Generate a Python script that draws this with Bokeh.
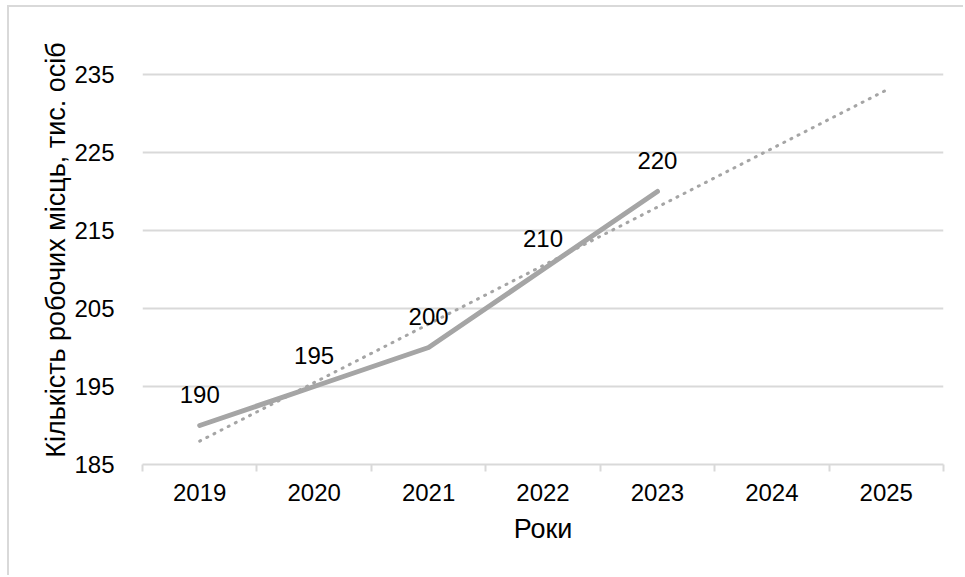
from bokeh.plotting import figure
from bokeh.models import ColumnDataSource, FixedTicker, LabelSet, Range1d
from bokeh.core.properties import value
from bokeh.embed import file_html
from bokeh.resources import INLINE

years = ["2019", "2020", "2021", "2022", "2023", "2024", "2025"]
jobs = [190, 195, 200, 210, 220]
trend = [188, 195.5, 203, 210.5, 218, 225.5, 233]
y_ticks = [185, 195, 205, 215, 225, 235]
x_title = "Роки"
y_title = "Кількість робочих місць, тис. осіб"

FONT = "Liberation Sans"
GRID = "#d9d9d9"
LINE = "#a5a5a5"

centers = [i + 0.5 for i in range(len(years))]
bounds = list(range(len(years) + 1))

p = figure(width=956, height=570, output_backend="svg", toolbar_location=None,
           x_range=Range1d(0, len(years)), y_range=Range1d(185, 240),
           min_border_left=133, min_border_right=22, min_border_top=28, min_border_bottom=113)
p.styles = {"border-left": "2px solid #d9d9d9", "border-top": "2px solid #d9d9d9",
            "margin-left": "7px", "margin-top": "5px"}
p.outline_line_color = None
p.background_fill_color = "white"

# axes
xa = p.xaxis[0]
xa.ticker = FixedTicker(ticks=centers, minor_ticks=bounds)
xa.major_label_overrides = {c: y for c, y in zip(centers, years)}
xa.major_tick_out = 0
xa.major_tick_in = 0
xa.minor_tick_out = 7
xa.minor_tick_in = 0
xa.minor_tick_line_color = GRID
xa.minor_tick_line_width = 2
xa.axis_line_color = GRID
xa.axis_line_width = 2
xa.major_label_text_font = FONT
xa.major_label_text_font_size = "24px"
xa.major_label_text_color = "black"
xa.major_label_standoff = 12
xa.axis_label = x_title
xa.axis_label_text_font = FONT
xa.axis_label_text_font_size = "27px"
xa.axis_label_text_font_style = "normal"
xa.axis_label_text_color = "black"
xa.axis_label_standoff = 10

ya = p.yaxis[0]
ya.ticker = FixedTicker(ticks=y_ticks)
ya.axis_line_color = None
ya.major_tick_line_color = None
ya.minor_tick_line_color = None
ya.major_label_text_font = FONT
ya.major_label_text_font_size = "24px"
ya.major_label_text_color = "black"
ya.major_label_standoff = 22
ya.axis_label = y_title
ya.axis_label_text_font = FONT
ya.axis_label_text_font_size = "27px"
ya.axis_label_text_font_style = "normal"
ya.axis_label_text_color = "black"
ya.axis_label_standoff = 0

p.xgrid.grid_line_color = None
p.ygrid.grid_line_color = GRID
p.ygrid.grid_line_width = 2
p.ygrid.ticker = FixedTicker(ticks=y_ticks[1:])

# trend line
p.line(x=centers, y=trend, line_color=LINE, line_width=3, line_dash="1 7", line_cap="round")

# data line
src = ColumnDataSource(dict(x=centers[:len(jobs)], y=jobs, lab=[str(v) for v in jobs]))
p.line(x="x", y="y", source=src, line_color=LINE, line_width=5, line_cap="round", line_join="round")

labels = LabelSet(x="x", y="y", text="lab", source=src, text_align="center", text_baseline="middle",
                  y_offset=31, text_font=value(FONT), text_font_size=value("24px"), text_color="black")
p.add_layout(labels)

open("out.html", "w").write(file_html(p, INLINE))
